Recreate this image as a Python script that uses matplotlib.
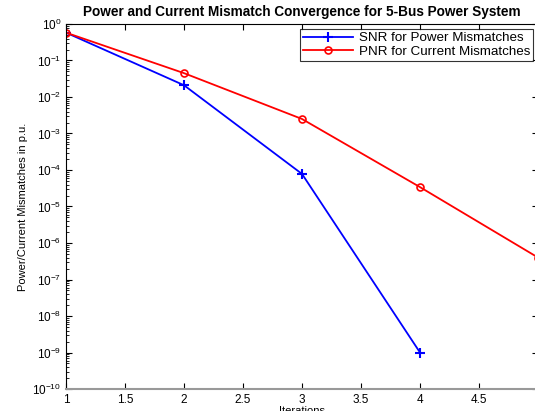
import numpy as np
import matplotlib.pyplot as plt
from matplotlib.ticker import LogLocator, NullFormatter

plt.rcParams['font.family'] = ['Liberation Sans', 'DejaVu Sans']

# data
iters_snr = [1, 2, 3, 4]
snr = [0.58, 0.021, 7.8e-5, 1.0e-9]
iters_pnr = [1, 2, 3, 4, 5]
pnr = [0.58, 0.045, 2.5e-3, 3.4e-5, 4.0e-7]
xticks = [1, 1.5, 2, 2.5, 3, 3.5, 4, 4.5, 5]
xlabels = ['1', '1.5', '2', '2.5', '3', '3.5', '4', '4.5', '']

fig = plt.figure(figsize=(5.35, 4.11), dpi=100)
ax = fig.add_axes([66/535, 1-389/411, 472/535, 365/411])

ax.plot(iters_snr, snr, color='blue', marker='+', ms=7, mew=1.5, lw=1.3,
        label='SNR for Power Mismatches')
ax.plot(iters_pnr, pnr, color='red', marker='o', ms=5, mfc='none', mew=1.2, lw=1.3,
        label='PNR for Current Mismatches')

ax.set_yscale('log')
ax.set_ylim(1e-10, 1)
ax.set_xlim(1, 5)
ax.set_xticks(xticks)
ax.set_xticklabels(xlabels)
ax.yaxis.set_major_locator(LogLocator(base=10, numticks=20))
ax.yaxis.set_minor_locator(LogLocator(base=10, subs=np.arange(2, 10), numticks=20))
ax.yaxis.set_minor_formatter(NullFormatter())
ax.tick_params(which='both', direction='in', top=True, right=True, labelsize=8.5)
ax.tick_params(which='major', length=4)
ax.tick_params(which='minor', length=2)
ax.spines['bottom'].set_color('#999999')
ax.spines['bottom'].set_linewidth(1.5)

ax.set_title('Power and Current Mismatch Convergence for 5-Bus Power System',
             fontsize=9.8, fontweight='bold', pad=6)
ax.set_xlabel('Iterations', fontsize=8, labelpad=0)
ax.set_ylabel('Power/Current Mismatches in p.u.', fontsize=8, labelpad=3)

leg = ax.legend(loc='upper right', fontsize=9.6, fancybox=False, edgecolor='black',
                borderaxespad=0.4, handlelength=3.8, borderpad=0.2, labelspacing=0.1,
                handletextpad=0.4)
leg.get_frame().set_linewidth(0.8)

fig.savefig('out.png', dpi=100)
